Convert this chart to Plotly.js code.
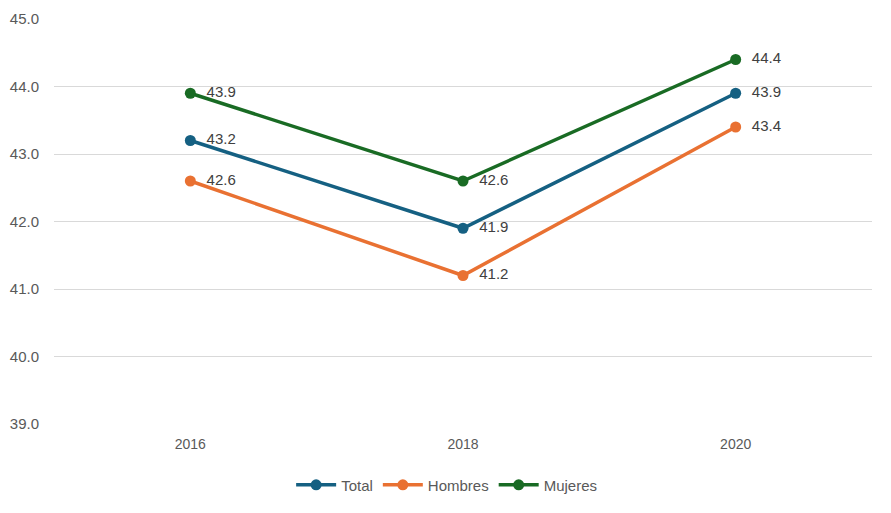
<!DOCTYPE html>
<html>
<head>
<meta charset="utf-8">
<script src="https://cdn.plot.ly/plotly-3.0.1.min.js"></script>
<style>html,body{margin:0;padding:0;background:#fff;}#chart{width:891px;height:513px;}</style>
</head>
<body>
<div id="chart"></div>
<script>
const years = ["2016", "2018", "2020"];
const total = [43.2, 41.9, 43.9];
const hombres = [42.6, 41.2, 43.4];
const mujeres = [43.9, 42.6, 44.4];
const seriesNames = ["Total", "Hombres", "Mujeres"];
const colors = ["#156082", "#E97132", "#196B24"];

function mk(name, vals, color) {
  return {
    type: "scatter", mode: "lines+markers+text", name: name,
    x: years, y: vals,
    text: vals.map(v => "  " + v.toFixed(1)),
    textposition: "middle right",
    textfont: {family: "Liberation Sans, Arial, sans-serif", size: 15, color: "#404040"},
    line: {color: color, width: 3.5},
    marker: {color: color, size: 11},
    cliponaxis: false
  };
}
const data = [mk(seriesNames[0], total, colors[0]), mk(seriesNames[1], hombres, colors[1]), mk(seriesNames[2], mujeres, colors[2])];
const layout = {
  width: 891, height: 513,
  margin: {l: 54, r: 19, t: 19, b: 88},
  paper_bgcolor: "#fff", plot_bgcolor: "#fff",
  font: {family: "Liberation Sans, Arial, sans-serif", size: 14, color: "#595959"},
  xaxis: {type: "category", range: [-0.5, 2.5], showgrid: false, zeroline: false, showline: false,
          ticks: "outside", ticklen: 7, tickcolor: "rgba(0,0,0,0)", tickfont: {size: 14, color: "#595959"}},
  yaxis: {range: [39, 45], dtick: 1, tickformat: ".1f", showgrid: true, gridcolor: "#d9d9d9", gridwidth: 1,
          zeroline: false, showline: false, ticks: "outside", ticklen: 11, tickcolor: "rgba(0,0,0,0)",
          tickfont: {size: 15, color: "#595959"}},
  showlegend: true,
  legend: {orientation: "h", x: 0.48, xanchor: "center", y: -0.148, yanchor: "middle",
           font: {size: 15, color: "#595959"}, itemwidth: 40, traceorder: "normal"}
};
Plotly.newPlot("chart", data, layout, {displayModeBar: false, staticPlot: true});
</script>
</body>
</html>
